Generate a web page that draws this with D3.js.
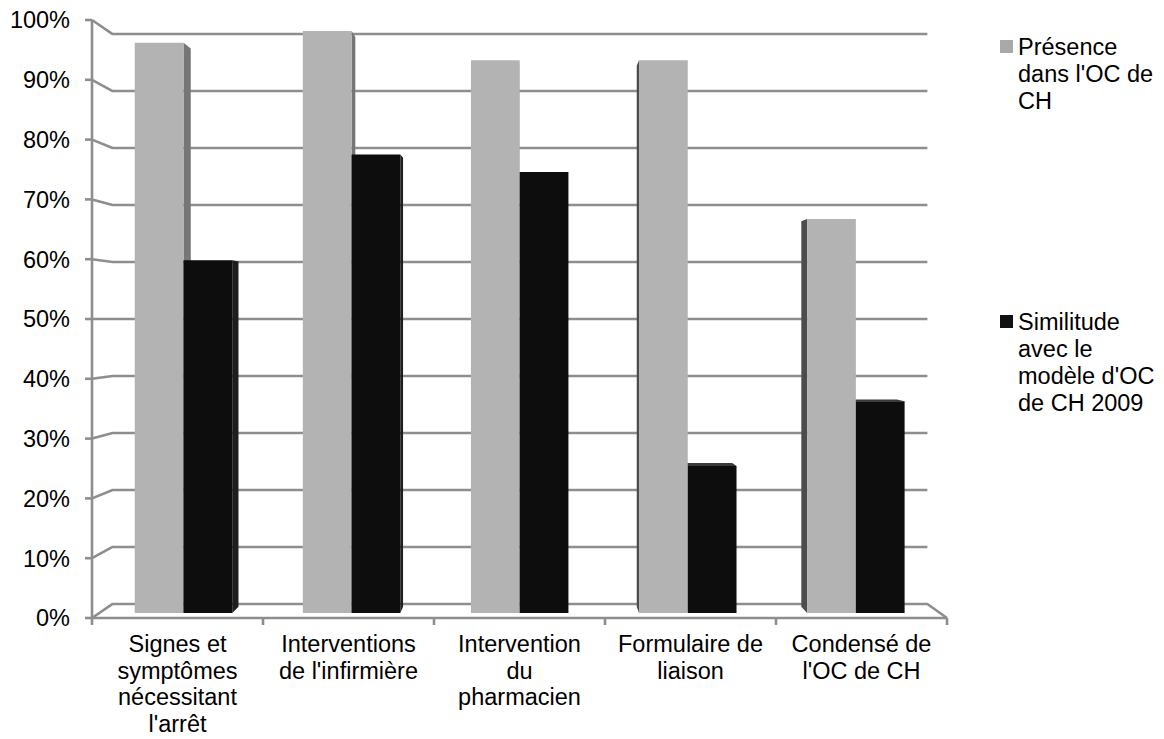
<!DOCTYPE html>
<html>
<head>
<meta charset="utf-8">
<script src="https://cdn.jsdelivr.net/npm/d3@7"></script>
<style>
  html, body { margin: 0; padding: 0; background: #fff; }
  svg { display: block; font-family: "Liberation Sans", Arial, sans-serif; }
</style>
</head>
<body>
<svg id="chart" width="1164" height="739"></svg>
<script>
// ---- data ----
const categories = [
  "Signes et symptômes nécessitant l'arrêt",
  "Interventions de l'infirmière",
  "Intervention du pharmacien",
  "Formulaire de liaison",
  "Condensé de l'OC de CH"
];
const categoryLines = [
  ["Signes et", "symptômes", "nécessitant", "l'arrêt"],
  ["Interventions", "de l'infirmière"],
  ["Intervention", "du", "pharmacien"],
  ["Formulaire de", "liaison"],
  ["Condensé de", "l'OC de CH"]
];
const seriesNames = ["Présence dans l'OC de CH", "Similitude avec le modèle d'OC de CH 2009"];
const legendLines = [
  ["Présence", "dans l'OC de", "CH"],
  ["Similitude", "avec le", "modèle d'OC", "de CH 2009"]
];
const presence   = [0.97, 0.99, 0.94, 0.94, 0.67];
const similitude = [0.60, 0.78, 0.75, 0.25, 0.36];
const yTicks = [0, 0.1, 0.2, 0.3, 0.4, 0.5, 0.6, 0.7, 0.8, 0.9, 1.0];

// ---- 3D view: front plane coordinates are projected toward a vanishing point ----
const VP = { x: 530, y: 319 };
const K_BACK = 0.953;            // scale of the back wall relative to the front plane
const BAR_D0 = 0.362, BAR_D1 = 0.80;  // depth of the bar slab (0 = front, 1 = back)
function proj(X, Y, d) {
  const s = 1 - d * (1 - K_BACK);
  return [VP.x + (X - VP.x) * s, VP.y + (Y - VP.y) * s];
}

const FONT = 23.5;
const LINE_H = 26.5;
const svg = d3.select("#chart");
const x0 = d3.scaleBand().domain(categories).range([92, 947]).paddingInner(0.42).paddingOuter(0.21);
const x1 = d3.scaleBand().domain(seriesNames).range([0, x0.bandwidth()]);
const y = d3.scaleLinear().domain([0, 1]).range([618, 20]);
const fmt = d3.format(".0%");

const gridColor = "#8e8e8e";
const line = d3.line();

// back wall + side wall gridlines
const grid = svg.append("g").attr("fill", "none").attr("stroke", gridColor).attr("stroke-width", 2.6)
  .attr("stroke-linejoin", "round");
yTicks.forEach(v => {
  const pts = [proj(92, y(v), 0), proj(92, y(v), 1), proj(947, y(v), 1)];
  if (v === 0) pts.push(proj(947, y(v), 0));
  grid.append("path").attr("d", line(pts));
});

// bars
const bars = [];
categories.forEach((c, i) => {
  [presence, similitude].forEach((arr, j) => {
    const X0 = x0(c) + x1(seriesNames[j]);
    const X1 = X0 + x1.bandwidth();
    bars.push({ c, j, v: arr[i], X0, X1, mid: (X0 + X1) / 2 });
  });
});
bars.sort((a, b) => Math.abs(b.mid - VP.x) - Math.abs(a.mid - VP.x));

const palette = [
  { front: "#b3b3b3", sideR: "#767676", sideL: "#4c4c4c", top: "#c9c9c9" },
  { front: "#0d0d0d", sideR: "#1e1e1e", sideL: "#000000", top: "#3a3a3a" }
];
const barG = svg.append("g");
bars.forEach(b => {
  const col = palette[b.j];
  const Y0 = y(0), Yv = y(b.v);
  const g = barG.append("g");
  if (b.X1 < VP.x) {
    g.append("path").attr("fill", col.sideR)
      .attr("d", line([proj(b.X1, Y0, BAR_D0), proj(b.X1, Yv, BAR_D0), proj(b.X1, Yv, BAR_D1), proj(b.X1, Y0, BAR_D1)]) + "Z");
  } else if (b.X0 > VP.x) {
    g.append("path").attr("fill", col.sideL)
      .attr("d", line([proj(b.X0, Y0, BAR_D0), proj(b.X0, Yv, BAR_D0), proj(b.X0, Yv, BAR_D1), proj(b.X0, Y0, BAR_D1)]) + "Z");
  }
  if (Yv > VP.y) {
    g.append("path").attr("fill", col.top)
      .attr("d", line([proj(b.X0, Yv, BAR_D0), proj(b.X1, Yv, BAR_D0), proj(b.X1, Yv, BAR_D1), proj(b.X0, Yv, BAR_D1)]) + "Z");
  }
  g.append("path").attr("fill", col.front)
    .attr("d", line([proj(b.X0, Y0, BAR_D0), proj(b.X1, Y0, BAR_D0), proj(b.X1, Yv, BAR_D0), proj(b.X0, Yv, BAR_D0)]) + "Z");
});

// front axes
const axG = svg.append("g").attr("stroke", gridColor).attr("stroke-width", 2.6).attr("fill", "none");
axG.append("path").attr("d", line([[92, y(1)], [92, y(0)], [947, y(0)]]));
yTicks.forEach(v => axG.append("path").attr("d", line([[85, y(v)], [92, y(v)]])));
const catEdges = d3.range(categories.length + 1).map(i => 92 + i * (947 - 92) / categories.length);
catEdges.forEach(xe => axG.append("path").attr("d", line([[xe, y(0)], [xe, y(0) + 7]])));

// y tick labels
svg.append("g").selectAll("text").data(yTicks).join("text")
  .attr("x", 70).attr("y", d => y(d)).attr("dy", "0.36em")
  .attr("text-anchor", "end").attr("font-size", FONT).attr("fill", "#000")
  .text(d => fmt(d));

// category labels
const catG = svg.append("g").attr("font-size", FONT).attr("fill", "#000").attr("text-anchor", "middle");
categories.forEach((c, i) => {
  const cx = (catEdges[i] + catEdges[i + 1]) / 2;
  const t = catG.append("text").attr("x", cx).attr("y", 652);
  categoryLines[i].forEach((ln, k) => {
    t.append("tspan").attr("x", cx).attr("dy", k === 0 ? 0 : LINE_H).text(ln);
  });
});

// legend
const legColors = ["#a9a9a9", "#111111"];
const legTop = [47, 322];
const legG = svg.append("g").attr("font-size", FONT).attr("fill", "#000");
seriesNames.forEach((s, i) => {
  legG.append("rect").attr("x", 1000).attr("y", legTop[i] - 7).attr("width", 13).attr("height", 13)
    .attr("fill", legColors[i]);
  const t = legG.append("text").attr("x", 1018).attr("y", legTop[i]);
  legendLines[i].forEach((ln, k) => {
    t.append("tspan").attr("x", 1018).attr("dy", k === 0 ? "0.36em" : 27).text(ln);
  });
});
</script>
</body>
</html>
